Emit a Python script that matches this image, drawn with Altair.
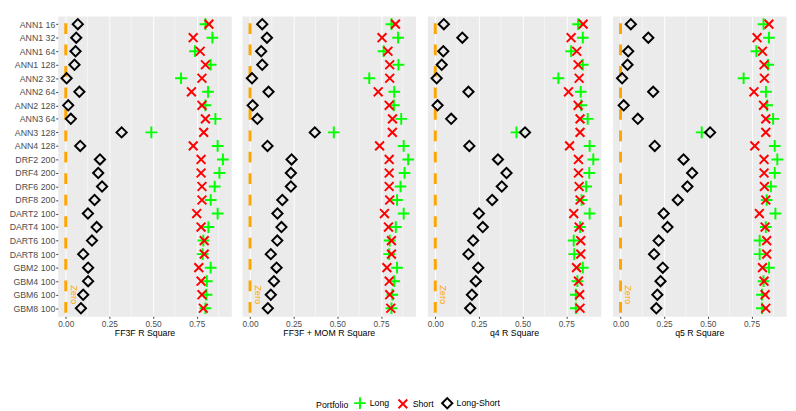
import altair as alt
import pandas as pd

models = ["ANN1 16", "ANN1 32", "ANN1 64", "ANN1 128", "ANN2 32", "ANN2 64", "ANN2 128",
          "ANN3 64", "ANN3 128", "ANN4 128", "DRF2 200", "DRF4 200", "DRF6 200", "DRF8 200",
          "DART2 100", "DART4 100", "DART6 100", "DART8 100", "GBM2 100", "GBM4 100",
          "GBM6 100", "GBM8 100"]

series = ["Long", "Short", "Long-Short"]
series_colors = ["#00FF00", "#FF0000", "#000000"]

ff3f_long = [0.80, 0.84, 0.74, 0.83, 0.66, 0.815, 0.80, 0.857, 0.49, 0.87, 0.90, 0.88, 0.853, 0.83,
             0.87, 0.817, 0.788, 0.784, 0.83, 0.808, 0.806, 0.80]
ff3f_short = [0.82, 0.73, 0.77, 0.80, 0.78, 0.72, 0.78, 0.80, 0.79, 0.73, 0.775, 0.775, 0.78, 0.78,
              0.75, 0.775, 0.793, 0.793, 0.762, 0.775, 0.78, 0.788]
ff3f_ls = [0.069, 0.06, 0.056, 0.05, 0.005, 0.078, 0.014, 0.029, 0.32, 0.083, 0.196, 0.186, 0.208, 0.165,
           0.127, 0.177, 0.15, 0.10, 0.128, 0.128, 0.10, 0.087]

mom_long = [0.81, 0.848, 0.765, 0.85, 0.683, 0.826, 0.824, 0.866, 0.48, 0.88, 0.906, 0.885, 0.862, 0.842,
            0.88, 0.835, 0.80, 0.797, 0.842, 0.826, 0.815, 0.81]
mom_short = [0.833, 0.756, 0.79, 0.80, 0.80, 0.734, 0.797, 0.816, 0.815, 0.742, 0.797, 0.797, 0.797, 0.80,
             0.77, 0.793, 0.81, 0.81, 0.784, 0.797, 0.80, 0.806]
mom_ls = [0.07, 0.097, 0.064, 0.07, 0.011, 0.106, 0.015, 0.042, 0.371, 0.10, 0.238, 0.234, 0.234, 0.185,
          0.157, 0.18, 0.156, 0.119, 0.152, 0.137, 0.119, 0.102]

q4_long = [0.818, 0.845, 0.778, 0.845, 0.705, 0.833, 0.836, 0.873, 0.465, 0.884, 0.905, 0.882, 0.864, 0.838,
           0.884, 0.829, 0.793, 0.796, 0.845, 0.814, 0.805, 0.805]
q4_short = [0.847, 0.778, 0.81, 0.818, 0.824, 0.763, 0.818, 0.829, 0.829, 0.769, 0.82, 0.82, 0.824, 0.829,
            0.793, 0.824, 0.833, 0.833, 0.809, 0.82, 0.827, 0.829]
q4_ls = [0.049, 0.155, 0.046, 0.037, 0.008, 0.19, 0.013, 0.091, 0.514, 0.195, 0.359, 0.408, 0.381, 0.326,
         0.25, 0.272, 0.217, 0.19, 0.246, 0.232, 0.21, 0.20]

q5_long = [0.819, 0.85, 0.778, 0.846, 0.705, 0.833, 0.84, 0.874, 0.465, 0.883, 0.898, 0.883, 0.861, 0.837,
           0.887, 0.832, 0.797, 0.797, 0.85, 0.819, 0.81, 0.81]
q5_short = [0.85, 0.782, 0.813, 0.822, 0.824, 0.764, 0.819, 0.832, 0.832, 0.769, 0.822, 0.822, 0.824, 0.832,
            0.795, 0.828, 0.837, 0.837, 0.813, 0.822, 0.828, 0.832]
q5_ls = [0.059, 0.159, 0.044, 0.04, 0.009, 0.187, 0.018, 0.099, 0.513, 0.196, 0.361, 0.41, 0.383, 0.328,
         0.247, 0.269, 0.218, 0.192, 0.242, 0.229, 0.211, 0.205]

panel_titles = ["FF3F R Square", "FF3F + MOM R Square", "q4 R Square", "q5 R Square"]
major_breaks = [0.0, 0.25, 0.5, 0.75]
minor_breaks = [0.125, 0.375, 0.625, 0.875]
zero_label = "Zero"
zero_label_row = "GBM6 100"

PLUS = "M-1,0L1,0M0,-1L0,1"
CROSS = "M-0.8,-0.8L0.8,0.8M-0.8,0.8L0.8,-0.8"

W, H = 178, 308
FONT = "Liberation Sans"

legend = alt.Legend(
    title="Portfolio", orient="none", legendX=265, legendY=390, direction="horizontal",
    titleOrient="left", titleFontSize=9, titleFontWeight="normal", titleColor="black",
    labelFontSize=9, labelColor="black", symbolStrokeWidth=2, labelOffset=3,
    columnPadding=4, titlePadding=4, titleFont=FONT, labelFont=FONT,
)


def panel(vals_long, vals_short, vals_ls, title, first):
    rows = []
    for name, vals in zip(series, [vals_long, vals_short, vals_ls]):
        for m, v in zip(models, vals):
            rows.append({"Model": m, "Portfolio": name, "R2": v})
    df = pd.DataFrame(rows)

    xscale = alt.Scale(domain=[-0.046, 0.948], nice=False, zero=False)
    xaxis = alt.Axis(values=major_breaks, format=".2f", title=title, labelFontSize=8.5,
                     titleFontSize=9, labelPadding=1, titlePadding=1, labelFlush=False,
                     gridColor="white", gridWidth=1, tickSize=2)
    yscale = alt.Scale(type="point", padding=0.6)
    if first:
        yaxis = alt.Axis(title=None, labelFontSize=9, labelPadding=1, tickSize=2,
                         gridColor="white", gridWidth=1)
    else:
        yaxis = alt.Axis(title=None, labels=False, ticks=False, domain=False,
                         gridColor="white", gridWidth=1)
    y = alt.Y("Model:N", sort=models, scale=yscale, axis=yaxis)

    minor = alt.Chart(pd.DataFrame({"R2": minor_breaks})).mark_rule(
        color="white", strokeWidth=0.5
    ).encode(x=alt.X("R2:Q", scale=xscale, axis=xaxis))

    zero_df = pd.DataFrame({"R2": [0.0], "Model": [zero_label_row], "label": [zero_label]})
    zero_rule = alt.Chart(zero_df).mark_rule(
        color="#FFA500", strokeWidth=3, strokeDash=[11, 11], strokeDashOffset=14.7
    ).encode(x=alt.X("R2:Q", scale=xscale, axis=xaxis))

    zero_text = alt.Chart(zero_df).mark_text(
        angle=90, color="#FFA500", fontSize=9.5, align="center", baseline="middle", dy=-8, font=FONT
    ).encode(x=alt.X("R2:Q", scale=xscale, axis=xaxis), y=y, text="label:N")

    pts = alt.Chart(df).mark_point(filled=False, strokeWidth=2, opacity=1).encode(
        x=alt.X("R2:Q", scale=xscale, axis=xaxis),
        y=y,
        color=alt.Color("Portfolio:N", scale=alt.Scale(domain=series, range=series_colors), legend=legend),
        shape=alt.Shape("Portfolio:N", scale=alt.Scale(domain=series, range=[PLUS, CROSS, "diamond"]), legend=legend),
        size=alt.Size("Portfolio:N", scale=alt.Scale(domain=series, range=[144, 110, 100]), legend=legend),
    )
    return alt.layer(minor, zero_rule, zero_text, pts).properties(width=W, height=H)


panels = [
    panel(ff3f_long, ff3f_short, ff3f_ls, panel_titles[0], True),
    panel(mom_long, mom_short, mom_ls, panel_titles[1], False),
    panel(q4_long, q4_short, q4_ls, panel_titles[2], False),
    panel(q5_long, q5_short, q5_ls, panel_titles[3], False),
]

chart = alt.hconcat(*panels, spacing=8).properties(padding=0).configure(
    font=FONT
).configure_view(
    fill="#EBEBEB", stroke="transparent"
).configure_axis(
    domain=False, tickColor="#333333", labelColor="#4D4D4D", titleColor="black",
    titleFontWeight="normal", labelFont=FONT, titleFont=FONT
)

chart.save("out.html", embed_options={"renderer": "svg", "actions": False})
